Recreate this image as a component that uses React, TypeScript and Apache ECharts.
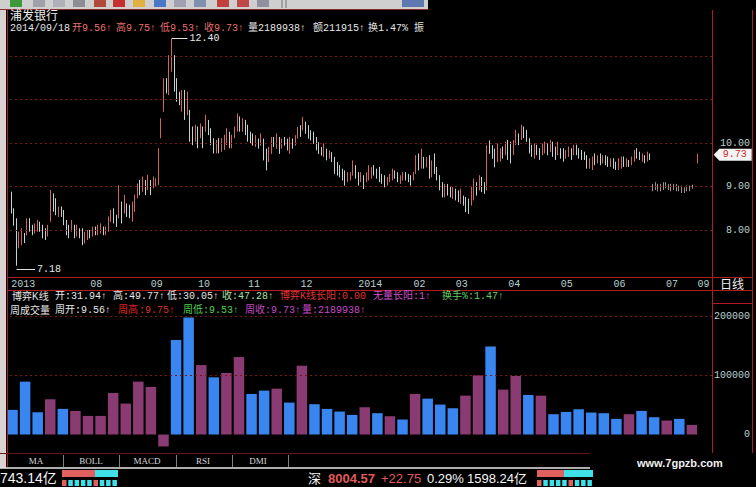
import React, { useEffect, useRef } from 'react';
import * as echarts from 'echarts';

// ---------- DATA ----------
// daily candles: [open, close, low, high]
const dailyCandles: number[][] = [
  [8.84,8.42,8.38,8.88],[8.46,8.15,8.10,8.50],[8.23,7.69,7.18,8.27],[7.62,7.92,7.58,7.96],[7.69,8.00,7.65,8.04],[7.89,7.73,7.70,7.93],
  [7.92,8.23,7.88,8.27],[8.23,8.00,7.96,8.27],[8.08,7.92,7.88,8.12],[7.96,8.11,7.92,8.15],[8.00,8.19,7.96,8.23],[8.15,8.00,7.96,8.19],
  [8.08,7.85,7.81,8.12],[8.00,7.81,7.77,8.04],[7.89,8.08,7.85,8.12],[8.23,8.88,8.19,8.92],[8.80,8.46,8.42,8.84],[8.69,8.38,8.34,8.73],
  [8.34,8.50,8.30,8.54],[8.50,8.34,8.30,8.54],[8.42,8.15,8.11,8.46],[8.19,7.92,7.88,8.23],[8.08,7.85,7.81,8.12],[8.00,8.19,7.96,8.23],
  [8.08,7.85,7.81,8.12],[7.89,8.08,7.85,8.12],[8.00,7.85,7.81,8.04],[8.00,7.69,7.65,8.04],[7.73,7.92,7.69,7.96],[7.81,7.96,7.77,8.00],
  [7.96,7.85,7.81,8.00],[7.89,8.04,7.85,8.08],[8.04,7.92,7.88,8.08],[7.92,8.08,7.88,8.12],[7.96,8.11,7.92,8.15],[8.04,7.92,7.88,8.08],
  [7.92,8.04,7.88,8.08],[8.00,8.27,7.96,8.31],[8.23,8.42,8.19,8.46],[8.46,8.19,8.15,8.50],[8.31,8.11,8.07,8.35],[8.31,9.00,8.27,9.03],
  [8.61,8.19,8.15,8.65],[8.42,8.77,8.38,8.81],[8.57,8.34,8.30,8.61],[8.54,8.31,8.27,8.58],[8.23,8.61,8.19,8.65],[8.46,8.77,8.42,8.81],
  [8.77,9.03,8.73,9.07],[9.11,8.84,8.80,9.15],[8.92,9.19,8.88,9.23],[9.11,8.84,8.80,9.15],[8.96,9.23,8.92,9.27],[9.11,8.84,8.80,9.15],
  [9.00,9.19,8.96,9.23],[9.03,9.15,8.99,9.19],[9.07,9.84,9.03,9.88],[10.15,10.53,10.11,10.57],[10.76,11.45,10.72,11.49],[11.45,11.18,11.14,11.49],
  [11.14,11.98,11.10,12.02],[11.68,12.29,11.64,12.40],[11.98,11.22,11.18,12.02],[11.45,10.99,10.95,11.49],[11.14,10.91,10.87,11.18],[10.76,11.18,10.72,11.22],
  [11.18,10.57,10.53,11.22],[10.68,11.14,10.64,11.18],[10.72,10.07,10.03,10.76],[10.34,9.99,9.95,10.38],[10.07,10.38,10.03,10.42],[10.34,9.92,9.88,10.38],
  [10.15,10.41,10.11,10.45],[10.34,9.92,9.88,10.38],[10.30,10.61,10.26,10.65],[10.49,10.22,10.18,10.53],[10.30,9.99,9.95,10.34],[10.07,9.80,9.76,10.11],
  [9.80,10.03,9.76,10.07],[10.07,9.80,9.76,10.11],[9.84,10.07,9.80,10.11],[9.88,10.15,9.84,10.19],[9.99,10.30,9.95,10.34],[10.22,9.92,9.88,10.26],
  [9.92,10.15,9.88,10.19],[10.15,10.34,10.11,10.38],[10.30,10.64,10.26,10.68],[10.57,10.30,10.26,10.61],[10.30,10.53,10.26,10.57],[10.49,10.22,10.18,10.53],
  [10.38,10.07,10.03,10.42],[10.22,10.02,9.98,10.26],[10.18,9.98,9.94,10.22],[9.95,10.14,9.91,10.18],[10.06,9.91,9.87,10.10],[9.98,10.18,9.94,10.22],
  [10.06,9.64,9.60,10.10],[9.83,9.41,9.37,9.87],[9.60,9.87,9.56,9.91],[9.79,10.10,9.75,10.14],[10.10,9.95,9.91,10.14],[9.91,10.18,9.87,10.22],
  [10.10,9.79,9.75,10.14],[9.91,10.06,9.87,10.10],[10.10,9.98,9.94,10.14],[10.06,9.87,9.83,10.10],[9.79,10.10,9.75,10.14],[10.06,9.91,9.87,10.10],
  [9.98,10.14,9.94,10.18],[10.14,10.33,10.10,10.37],[10.37,10.18,10.14,10.41],[10.33,10.56,10.29,10.60],[10.45,10.25,10.21,10.49],[10.37,10.14,10.10,10.41],
  [10.25,10.10,10.06,10.29],[10.22,10.02,9.98,10.26],[10.10,9.87,9.83,10.14],[9.98,9.79,9.75,10.02],[9.87,9.75,9.71,9.91],[9.72,9.95,9.68,9.99],
  [9.83,9.64,9.60,9.87],[9.68,9.79,9.64,9.83],[9.75,9.60,9.56,9.79],[9.64,9.33,9.29,9.68],[9.52,9.29,9.25,9.56],[9.45,9.25,9.21,9.49],
  [9.37,9.18,9.14,9.41],[9.33,9.06,9.02,9.37],[9.14,9.29,9.10,9.33],[9.18,9.29,9.14,9.33],[9.29,9.56,9.25,9.60],[9.45,9.22,9.18,9.49],
  [9.29,9.06,9.02,9.33],[9.14,9.29,9.10,9.33],[9.22,8.98,8.94,9.26],[9.14,9.29,9.10,9.33],[9.18,9.45,9.14,9.49],[9.22,9.41,9.18,9.45],
  [9.45,9.29,9.25,9.49],[9.37,9.22,9.18,9.41],[9.41,9.14,9.10,9.45],[9.25,9.10,9.06,9.29],[9.22,9.02,8.98,9.26],[9.06,9.18,9.02,9.22],
  [9.14,9.25,9.10,9.29],[9.18,9.37,9.14,9.41],[9.33,9.22,9.18,9.37],[9.29,9.14,9.10,9.33],[9.10,9.22,9.06,9.26],[9.18,9.29,9.14,9.33],
  [9.29,9.18,9.14,9.33],[9.25,9.14,9.10,9.29],[9.22,9.06,9.02,9.26],[9.18,9.29,9.14,9.33],[9.33,9.68,9.29,9.72],[9.72,9.41,9.37,9.76],
  [9.45,9.83,9.41,9.87],[9.64,9.45,9.41,9.68],[9.48,9.64,9.44,9.68],[9.68,9.22,9.18,9.72],[9.25,9.56,9.21,9.60],[9.72,9.33,9.29,9.76],
  [9.41,9.18,9.14,9.45],[9.22,8.95,8.91,9.26],[9.06,8.79,8.75,9.10],[8.79,9.02,8.75,9.06],[9.02,8.83,8.79,9.06],[8.95,8.79,8.75,8.99],
  [8.75,8.95,8.71,8.99],[8.91,8.72,8.68,8.95],[8.87,8.68,8.64,8.91],[8.64,8.91,8.60,8.95],[8.75,8.60,8.56,8.79],[8.72,8.45,8.41,8.76],
  [8.68,8.41,8.37,8.72],[8.60,8.95,8.56,8.99],[8.72,9.14,8.68,9.18],[9.06,8.83,8.79,9.10],[8.95,9.22,8.91,9.26],[9.18,8.91,8.87,9.22],
  [9.06,8.87,8.83,9.10],[8.95,9.91,8.91,9.95],[10.02,9.79,9.75,10.06],[9.91,9.68,9.64,9.95],[9.83,9.48,9.44,9.87],[9.60,9.95,9.56,9.99],
  [9.61,9.84,9.57,9.88],[9.88,9.68,9.64,9.92],[9.76,9.99,9.72,10.03],[10.03,9.65,9.61,10.07],[9.99,9.57,9.53,10.03],[9.76,10.03,9.72,10.07],
  [9.99,10.26,9.95,10.30],[10.18,9.99,9.95,10.22],[10.11,10.38,10.07,10.42],[10.34,10.15,10.11,10.38],[10.26,10.07,10.03,10.30],[10.07,9.80,9.76,10.11],
  [9.92,9.72,9.68,9.96],[9.68,9.95,9.64,9.99],[9.92,9.76,9.72,9.96],[9.84,9.65,9.61,9.88],[9.76,9.95,9.72,9.99],[9.80,9.99,9.76,10.03],
  [9.95,9.76,9.72,9.99],[9.84,10.03,9.80,10.07],[9.99,9.72,9.68,10.03],[9.88,9.65,9.61,9.92],[9.76,9.99,9.72,10.03],[9.84,9.68,9.64,9.88],
  [9.84,9.61,9.57,9.88],[9.68,9.80,9.64,9.84],[9.72,9.88,9.68,9.92],[9.84,9.65,9.61,9.88],[9.76,9.92,9.72,9.96],[9.92,9.76,9.72,9.96],
  [9.84,9.68,9.64,9.88],[9.80,9.65,9.61,9.84],[9.76,9.65,9.61,9.80],[9.68,9.45,9.41,9.72],[9.45,9.61,9.41,9.65],[9.42,9.65,9.38,9.69],
  [9.72,9.53,9.49,9.76],[9.57,9.68,9.53,9.72],[9.72,9.53,9.49,9.76],[9.57,9.68,9.53,9.72],[9.68,9.53,9.49,9.72],[9.65,9.49,9.45,9.69],
  [9.49,9.61,9.45,9.65],[9.61,9.45,9.41,9.65],[9.53,9.42,9.38,9.57],[9.42,9.61,9.38,9.65],[9.45,9.65,9.41,9.69],[9.65,9.49,9.45,9.69],
  [9.49,9.61,9.45,9.65],[9.57,9.49,9.45,9.61],[9.53,9.65,9.49,9.69],[9.61,9.80,9.57,9.84],[9.84,9.68,9.64,9.88],[9.76,9.65,9.61,9.80],
  [9.61,9.72,9.57,9.76],[9.68,9.57,9.53,9.72],[9.61,9.76,9.57,9.80],[9.72,9.65,9.61,9.76]
];
// dim July segment
const julyCandles: number[][] = [
  [9.03,8.92,8.89,9.06],[8.95,9.07,8.92,9.10],[9.03,8.92,8.89,9.06],[8.92,9.03,8.89,9.06],[8.95,9.07,8.92,9.10],[9.07,8.99,8.96,9.10],
  [9.03,8.95,8.92,9.06],[9.03,8.92,8.89,9.06],[8.95,9.03,8.92,9.06],[9.03,8.92,8.89,9.06],[8.99,8.92,8.89,9.02],[8.99,8.88,8.85,9.02],
  [8.95,8.88,8.85,8.98],[8.92,8.99,8.89,9.02],[8.92,8.99,8.89,9.02],[8.97,9.01,8.95,9.04]
];
const lastCandle: number[] = [9.56, 9.73, 9.53, 9.75];
const slotCount = 267;
const monthTicks: [number, string][] = [
  [0,'2013'],[30,'08'],[53,'09'],[71,'10'],[90,'11'],[110,'12'],[132,'2014'],
  [153,'02'],[169,'03'],[189,'04'],[209,'05'],[229,'06'],[249,'07'],[261,'09']
];
const priceTicks = [8, 9, 10];
const priceGridLines = [8, 9, 10, 11, 12];
const highMark = { index: 61, value: 12.40 };
const lowMark = { index: 2, value: 7.18 };

const weeklyVolume = [
  41700, 89600, 37700, 59700, 43400, 40000, 31500, 31500, 70400, 52400, 89600, 80600, -20300, 160000,
  198300, 117700, 96900, 104200, 131300, 68700, 74400, 77700, 54100, 116600, 51300, 43400, 38900, 33200,
  46200, 36100, 31000, 25400, 68700, 60800, 50700, 44500, 65900, 100300, 149300, 76100, 99200, 67000,
  65900, 34400, 38300, 42800, 37200, 36100, 26500, 34400, 40000, 29300, 23700, 26500, 16300
];
const weeklyUp = [
  0,0,0,1,0,1,1,1,1,1,1,1,1,0,
  0,1,0,1,1,0,0,1,0,1,0,0,0,0,
  1,0,1,0,1,0,0,0,1,1,0,1,1,0,
  1,0,0,0,0,0,0,1,0,0,1,0,1
];
const volumeTicks = [0, 100000, 200000];
const volumeGridLines = [100000, 200000];

// ---------- STYLE ----------
const MONO = '"Liberation Mono", "Noto Sans CJK SC", monospace';
const SANS = '"Liberation Sans", "Noto Sans CJK SC", sans-serif';
const FRAME = '#b01c22';
const GRIDRED = '#7a1616';
const AXISTXT = '#b8d0d0';
const UP = '#d06464';
const DOWN = '#c0d2d2';

function txt(x: number, y: number, text: string, fill: string, fontSize = 10, fontFamily = MONO, extra: any = {}) {
  return { type: 'text', x, y, z: 50, silent: true,
    style: { text, fill, fontSize, fontFamily, textVerticalAlign: 'middle', verticalAlign: 'middle', ...extra } };
}
function ln(x1: number, y1: number, x2: number, y2: number, stroke: string, extra: any = {}) {
  return { type: 'line', z: 40, silent: true, shape: { x1, y1, x2, y2 }, style: { stroke, lineWidth: 1, ...extra } };
}
function rc(x: number, y: number, width: number, height: number, fill: string, z = 40) {
  return { type: 'rect', z, silent: true, shape: { x, y, width, height }, style: { fill } };
}

export default function App() {
  const ref = useRef<HTMLDivElement>(null);
  useEffect(() => {
    if (!ref.current) return;
    const chart = echarts.init(ref.current, undefined, { renderer: 'svg' });

    const cats: string[] = [];
    for (let i = 0; i < slotCount; i++) cats.push('');
    monthTicks.forEach(([i, l]) => { cats[i] = l; });

    const dimStyle = { color: '#a08c8c', color0: '#9aa0a0', borderColor: '#a08c8c', borderColor0: '#9aa0a0' };
    const candleData: any[] = [];
    dailyCandles.forEach(c => candleData.push(c));
    julyCandles.forEach(c => candleData.push({ value: c, itemStyle: dimStyle }));
    candleData.push('-');
    candleData.push(lastCandle);
    while (candleData.length < slotCount) candleData.push('-');

    const volData = weeklyVolume.map((v, i) => ({
      value: [i, v],
      itemStyle: { color: weeklyUp[i] ? '#8a3b72' : '#3a86f0' }
    }));

    const gridLineStyle = { color: GRIDRED, type: [2, 3] as any, width: 1 };

    const icons: [number, string][] = [
      [10,'#3c9a3c'],[33,'#a0a0a8'],[53,'#b0b0b8'],[73,'#8c8c94'],[94,'#b04a3a'],[113,'#c83030'],
      [133,'#e0b040'],[154,'#4a78c8'],[174,'#a0a0b0'],[194,'#8090b0'],[217,'#c04040'],[237,'#c04848'],[257,'#9090a0']
    ];
    const SERIF = '"Liberation Serif", serif';
    const center = { textAlign: 'center', align: 'center' };

    const graphic: any[] = [
      rc(0, 0, 428, 9, '#cfcfcf'),
      ...icons.map(([x, c]) => rc(x, 0, 12, 7, c, 41)),
      ln(282, 0, 282, 8, '#707070'), ln(286, 0, 286, 8, '#707070'),
      rc(402, 0, 22, 7, '#6078b0', 41),
      ln(0, 9.5, 428, 9.5, '#8a3030'),
      rc(0, 10, 6, 458, '#d8d2d2'),
      ln(7.5, 10, 7.5, 468, FRAME),
      ln(712.5, 10, 712.5, 453, FRAME),
      ln(752.5, 10, 752.5, 453, FRAME),
      ln(7, 277.5, 753, 277.5, FRAME),
      ln(7, 290.5, 753, 290.5, FRAME),
      ln(712, 303.5, 753, 303.5, FRAME),
      ln(0, 453.5, 590, 453.5, '#6a1414'),
      ln(0, 468, 590, 468, '#e8e8e8', { lineWidth: 1.5 }),
      // header
      txt(10, 16, '浦发银行', '#f0f0f0', 12, SANS),
      txt(10, 28, '2014/09/18', '#e6e6e6'),
      txt(72, 28, '开9.56↑', '#e87070'),
      txt(116, 28, '高9.75↑', '#e87070'),
      txt(160, 28, '低9.53↑', '#e87070'),
      txt(204, 28, '收9.73↑', '#e87070'),
      txt(248, 28, '量2189938↑', '#e6e6e6'),
      txt(313, 28, '额211915↑', '#e6e6e6'),
      txt(368, 28, '换1.47% 振', '#e6e6e6'),
      // indicator row 1
      txt(12, 296, '博弈K线', '#e6e6e6', 10, SANS),
      txt(55, 296, '开:31.94↑', '#e6e6e6'),
      txt(113, 296, '高:49.77↑', '#e6e6e6'),
      txt(167, 296, '低:30.05↑', '#e6e6e6'),
      txt(222, 296, '收:47.28↑', '#a8e0a0'),
      txt(280, 296, '博弈K线长阳:0.00', '#e03434'),
      txt(373, 296, '无量长阳:1↑', '#d050d0'),
      txt(442, 296, '换手%:1.47↑', '#60d060'),
      // indicator row 2
      txt(10, 310, '周成交量', '#e6e6e6', 10, SANS),
      txt(55, 310, '周开:9.56↑', '#e6e6e6'),
      txt(118, 310, '周高', '#e02020'),
      txt(139, 310, ':9.75↑', '#d83030'),
      txt(183, 310, '周低:9.53↑', '#50d050'),
      txt(245, 310, '周收:9.73↑', '#c848c8'),
      txt(302, 310, '量:2189938↑', '#c848c8'),
      // right panel
      txt(732, 285, '日线', '#f0f0f0', 12, SANS, center),
      // tabs
      ln(63.5, 455, 63.5, 467, '#808080'), ln(119.5, 455, 119.5, 467, '#808080'),
      ln(176.5, 455, 176.5, 467, '#808080'), ln(232.5, 455, 232.5, 467, '#808080'),
      ln(288.5, 455, 288.5, 467, '#808080'),
      txt(36, 461, 'MA', '#d8d8d8', 9, SERIF, center),
      txt(91, 461, 'BOLL', '#d8d8d8', 9, SERIF, center),
      txt(147, 461, 'MACD', '#d8d8d8', 9, SERIF, center),
      txt(203, 461, 'RSI', '#d8d8d8', 9, SERIF, center),
      txt(258, 461, 'DMI', '#d8d8d8', 9, SERIF, center),
      txt(637, 463, 'www.7gpzb.com', '#f0f0f0', 11, SANS, { fontWeight: 'bold' }),
      // status bar
      txt(0, 478, '743.14亿', '#f4f4f4', 14, SANS),
      rc(62, 470, 33, 7, '#e06060'), rc(95, 470, 23, 7, '#40e0e8'),
      txt(308, 478, '深', '#f4f4f4', 13, SANS),
      txt(328, 478, '8004.57', '#e05a5a', 13, SANS, { fontWeight: 'bold' }),
      txt(381, 478, '+22.75', '#e05a5a', 13, SANS),
      txt(427, 478, '0.29%', '#f4f4f4', 13, SANS),
      txt(467, 478, '1598.24亿', '#f4f4f4', 13, SANS),
      rc(537, 470, 27, 7, '#e06060'), rc(564, 470, 29, 7, '#40e0e8'),
    ];
    const blk1 = ['#e06060','#40e0e8','#40e0e8','#40e0e8','#40e0e8','#e06060','#40e0e8','#40e0e8','#40e0e8'];
    blk1.forEach((c, k) => graphic.push(rc(62 + k * 6.3, 480, 4.5, 6, c)));
    blk1.forEach((c, k) => graphic.push(rc(537 + k * 6.3, 480, 4.5, 6, c)));

    const option: any = {
      animation: false,
      backgroundColor: '#000000',
      grid: [
        { left: 10, right: 44, top: 12.5, height: 261 },
        { left: 10, right: 44, top: 304.7, height: 144.55 }
      ],
      xAxis: [
        { type: 'category', gridIndex: 0, data: cats, boundaryGap: true,
          axisLine: { show: false }, axisTick: { show: false }, splitLine: { show: false },
          axisLabel: { interval: 0, align: 'left', margin: 6, color: AXISTXT, fontSize: 10, fontFamily: MONO } },
        { type: 'value', gridIndex: 1, min: -0.2, max: 55.6, show: false }
      ],
      yAxis: [
        { type: 'value', gridIndex: 0, position: 'right', min: 7, max: 13, interval: 1,
          splitLine: { show: false }, axisLine: { show: false }, axisTick: { show: false },
          axisLabel: { align: 'right', margin: 38, color: AXISTXT, fontSize: 10, fontFamily: MONO,
            formatter: (v: number) => priceTicks.indexOf(v) >= 0 ? v.toFixed(2) : '' } },
        { type: 'value', gridIndex: 1, position: 'right', min: -25000, max: 220000, interval: 25000,
          splitLine: { show: false }, axisLine: { show: false }, axisTick: { show: false },
          axisLabel: { align: 'right', margin: 38, color: AXISTXT, fontSize: 10, fontFamily: MONO,
            showMaxLabel: false,
            formatter: (v: number) => volumeTicks.indexOf(v) >= 0 ? String(v) : '' } }
      ],
      series: [
        {
          type: 'candlestick', xAxisIndex: 0, yAxisIndex: 0, data: candleData,
          barWidth: 1.3,
          itemStyle: { color: UP, color0: DOWN, borderColor: UP, borderColor0: DOWN, borderWidth: 1 },
          markLine: {
            silent: true, symbol: ['none', 'none'], animation: false,
            data: [
              ...priceGridLines.map(p => ({ yAxis: p, lineStyle: gridLineStyle, label: { show: false } })),
              [
                { coord: [highMark.index, highMark.value], lineStyle: { color: '#e0e0e0', type: 'solid', width: 1 } },
                { coord: [highMark.index + 6, highMark.value],
                  label: { show: true, position: 'end', formatter: highMark.value.toFixed(2), color: '#e8e8e8', fontSize: 10, fontFamily: MONO, distance: 2 } }
              ],
              [
                { coord: [lowMark.index, lowMark.value - 0.09], lineStyle: { color: '#e0e0e0', type: 'solid', width: 1 } },
                { coord: [lowMark.index + 7, lowMark.value - 0.09],
                  label: { show: true, position: 'end', formatter: lowMark.value.toFixed(2), color: '#e8e8e8', fontSize: 10, fontFamily: MONO, distance: 2 } }
              ]
            ]
          },
          markPoint: {
            silent: true, animation: false,
            data: [{
              coord: [slotCount - 1, lastCandle[1]],
              symbol: 'path://M0,6L6,0L40,0L40,12L6,12Z', symbolSize: [38, 12], symbolOffset: [22, 0],
              symbolKeepAspect: false,
              itemStyle: { color: '#f4f4f4' },
              label: { show: true, position: 'inside', offset: [2, 0], formatter: lastCandle[1].toFixed(2), color: '#d02828', fontSize: 10, fontFamily: MONO }
            }]
          }
        },
        {
          type: 'bar', xAxisIndex: 1, yAxisIndex: 1, data: volData, barWidth: 10.5,
          markLine: {
            silent: true, symbol: ['none', 'none'], animation: false,
            data: volumeGridLines.map(v => ({ yAxis: v, lineStyle: gridLineStyle, label: { show: false } }))
          }
        }
      ],
      graphic
    };
    chart.setOption(option);
    return () => chart.dispose();
  }, []);
  return <div ref={ref} style={{ position: 'fixed', left: 0, top: 0, width: 756, height: 487 }} />;
}
